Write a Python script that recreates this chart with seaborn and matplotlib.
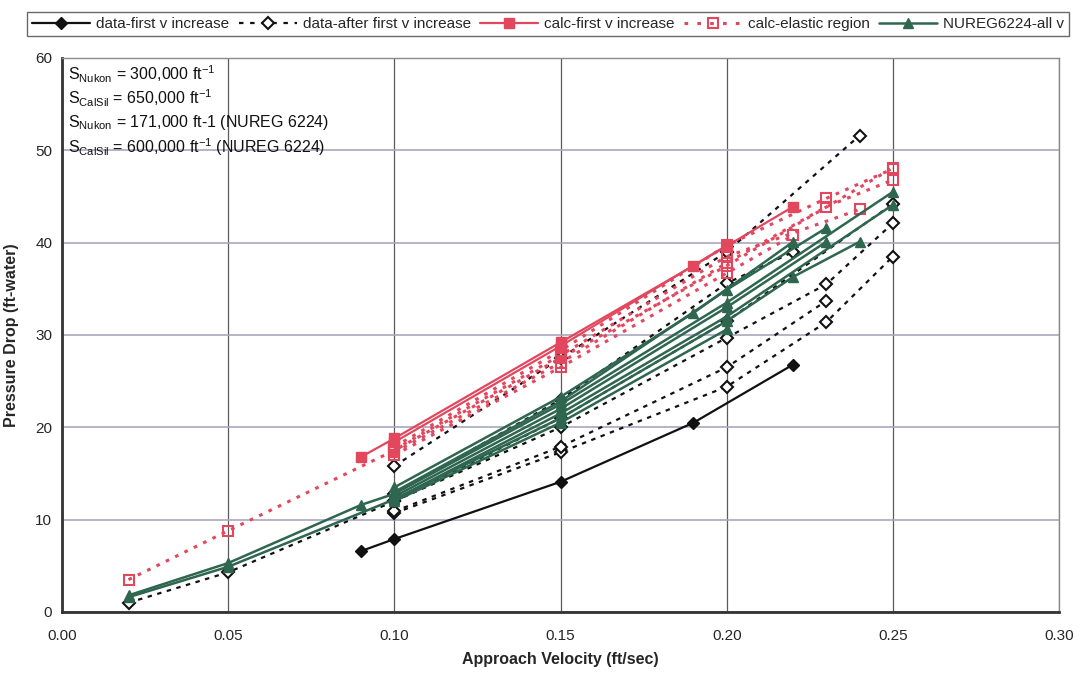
import matplotlib
matplotlib.use("Agg")
import matplotlib.pyplot as plt
from matplotlib.lines import Line2D
import seaborn as sns
import pandas as pd

# ---------------- data ----------------
# data - first v increase (one run)
first_x = [0.09, 0.10, 0.15, 0.19, 0.22]
first_y = [6.6, 7.9, 14.1, 20.5, 26.8]

# data - after first v increase (several runs)
after_x = [
    [0.02, 0.05, 0.10, 0.15, 0.20, 0.25],
    [0.10, 0.15, 0.20, 0.23, 0.25],
    [0.10, 0.15, 0.20, 0.23],
    [0.10, 0.15, 0.20, 0.23, 0.25],
    [0.10, 0.15, 0.20, 0.24],
    [0.10, 0.15, 0.20, 0.22],
]
after_y = [
    [1.0, 4.3, 12.0, 21.0, 31.5, 44.2],
    [10.7, 17.3, 24.4, 31.4, 38.5],
    [10.9, 17.9, 26.5, 33.7],
    [12.0, 20.0, 29.7, 35.5, 42.1],
    [15.8, 27.5, 39.0, 51.6],
    [12.8, 23.0, 35.6, 39.0],
]

# calc - first v increase
calc_x = [
    [0.09, 0.10, 0.15, 0.19, 0.22],
    [0.10, 0.15, 0.20],
]
calc_y = [
    [16.8, 18.8, 29.2, 37.5, 43.9],
    [18.4, 28.8, 39.7],
]

# calc - elastic region
elastic_x = [
    [0.02, 0.05, 0.10, 0.15, 0.20, 0.25],
    [0.10, 0.15, 0.20, 0.23, 0.25],
    [0.10, 0.15, 0.20, 0.23, 0.25],
    [0.10, 0.15, 0.20, 0.22],
    [0.10, 0.15, 0.20, 0.24],
]
elastic_y = [
    [3.5, 8.8, 17.5, 27.5, 37.5, 48.1],
    [17.9, 28.3, 39.7, 44.8, 48.0],
    [17.3, 27.0, 37.8, 43.9, 46.8],
    [17.0, 26.5, 36.7, 40.8],
    [17.6, 27.8, 38.5, 43.6],
]

# NUREG6224 - all v
nureg_x = [
    [0.02, 0.05, 0.10, 0.15, 0.20, 0.25],
    [0.02, 0.05, 0.09, 0.10, 0.15, 0.20, 0.25],
    [0.10, 0.15, 0.19, 0.22],
    [0.10, 0.15, 0.20, 0.23],
    [0.10, 0.15, 0.20, 0.23],
    [0.10, 0.15, 0.20, 0.22, 0.24],
    [0.10, 0.15, 0.20],
]
nureg_y = [
    [1.6, 4.9, 12.2, 21.5, 32.0, 44.1],
    [1.8, 5.3, 11.6, 12.8, 22.5, 33.5, 45.5],
    [13.5, 23.3, 32.4, 40.1],
    [13.0, 22.8, 34.9, 41.6],
    [12.5, 22.0, 33.0, 40.1],
    [12.2, 21.0, 31.5, 36.3, 40.1],
    [12.0, 20.5, 30.6],
]

legend_labels = ["data-first v increase", "data-after first v increase",
                 "calc-first v increase", "calc-elastic region", "NUREG6224-all v"]
x_ticks = [0.00, 0.05, 0.10, 0.15, 0.20, 0.25, 0.30]
y_ticks = [0, 10, 20, 30, 40, 50, 60]
notes = [r"S$_{\mathrm{Nukon}}$ = 300,000 ft$^{\mathrm{-1}}$",
         r"S$_{\mathrm{CalSil}}$ = 650,000 ft$^{\mathrm{-1}}$",
         r"S$_{\mathrm{Nukon}}$ = 171,000 ft-1 (NUREG 6224)",
         r"S$_{\mathrm{CalSil}}$ = 600,000 ft$^{\mathrm{-1}}$ (NUREG 6224)"]


def to_df(xs, ys):
    rows = []
    for i, (xx, yy) in enumerate(zip(xs, ys)):
        for a, b in zip(xx, yy):
            rows.append({"run": i, "x": a, "y": b})
    return pd.DataFrame(rows)


# ---------------- styling ----------------
sns.set_theme(style="white")
plt.rcParams["font.family"] = ["Liberation Sans", "DejaVu Sans"]
plt.rcParams["mathtext.fontset"] = "custom"
plt.rcParams["mathtext.rm"] = "Liberation Sans"

BLACK = "#111111"
RED = "#E2475E"
GREEN = "#2F6650"

fig = plt.figure(figsize=(10.79, 6.79), dpi=100)
ax = fig.add_axes([0.0575, 0.0987, 0.924, 0.8159])

styles = [
    (to_df([first_x], [first_y]), dict(color=BLACK, linestyle="-", linewidth=1.6,
                                      marker="D", markersize=6.5, markerfacecolor=BLACK,
                                      markeredgecolor=BLACK, markeredgewidth=1)),
    (to_df(after_x, after_y), dict(color=BLACK, linestyle=(0, (2, 2.5)), linewidth=1.6,
                                   marker="D", markersize=6, markerfacecolor="white",
                                   markeredgecolor=BLACK, markeredgewidth=1.5)),
    (to_df(calc_x, calc_y), dict(color=RED, linestyle="-", linewidth=1.6,
                                 marker="s", markersize=7.5, markerfacecolor=RED,
                                 markeredgecolor=RED, markeredgewidth=1)),
    (to_df(elastic_x, elastic_y), dict(color=RED, linestyle=(0, (1.2, 2.2)), linewidth=2.2,
                                       marker="s", markersize=7.5, markerfacecolor="none",
                                       markeredgecolor=RED, markeredgewidth=1.5)),
    (to_df(nureg_x, nureg_y), dict(color=GREEN, linestyle="-", linewidth=1.8,
                                   marker="^", markersize=7.5, markerfacecolor=GREEN,
                                   markeredgecolor=GREEN, markeredgewidth=1)),
]

for df, kw in styles:
    sns.lineplot(data=df, x="x", y="y", units="run", estimator=None, sort=False,
                 ax=ax, legend=False, **kw)

ax.set_xlim(0, 0.30)
ax.set_ylim(0, 60)
ax.set_xticks(x_ticks)
ax.set_xticklabels([f"{v:.2f}" for v in x_ticks], fontsize=11)
ax.set_yticks(y_ticks)
ax.set_yticklabels([str(v) for v in y_ticks], fontsize=11)
ax.tick_params(axis="x", direction="out", length=4, width=1, color="#333333", pad=8)
ax.tick_params(axis="y", direction="out", length=4, width=1, color="#333333", pad=3)

ax.xaxis.grid(True, color="#5a5a5a", linewidth=0.9)
ax.yaxis.grid(True, color="#a8a8bc", linewidth=1.2)
ax.set_axisbelow(True)
for side in ["top", "right"]:
    ax.spines[side].set_color("#8a8a8a")
    ax.spines[side].set_linewidth(1.0)
for side in ["left", "bottom"]:
    ax.spines[side].set_color("#333333")
    ax.spines[side].set_linewidth(2.0)

ax.set_xlabel("Approach Velocity (ft/sec)", fontsize=11.5, fontweight="bold", labelpad=7)
ax.set_ylabel("Pressure Drop (ft-water)", fontsize=11.5, fontweight="bold", labelpad=12)

note_y = [58.2, 55.6, 53.0, 50.3]
for t, yv in zip(notes, note_y):
    ax.text(0.0018, yv, t, fontsize=11.5, va="center", ha="left", color="#111111")

handles = [
    Line2D([], [], **styles[0][1]),
    Line2D([], [], **{**styles[1][1], "linestyle": (0, (2, 3))}),
    Line2D([], [], **styles[2][1]),
    Line2D([], [], **{**styles[3][1], "linestyle": (0, (1.2, 3))}),
    Line2D([], [], **styles[4][1]),
]
leg = fig.legend(handles, legend_labels, loc="upper center", bbox_to_anchor=(0.508, 0.993),
                 ncol=5, frameon=True, fancybox=False, edgecolor="#444444", fontsize=11,
                 handlelength=3.8, columnspacing=0.6, handletextpad=0.4, borderpad=0.3)
leg.get_frame().set_linewidth(1.0)

fig.savefig("out.png", dpi=100)
